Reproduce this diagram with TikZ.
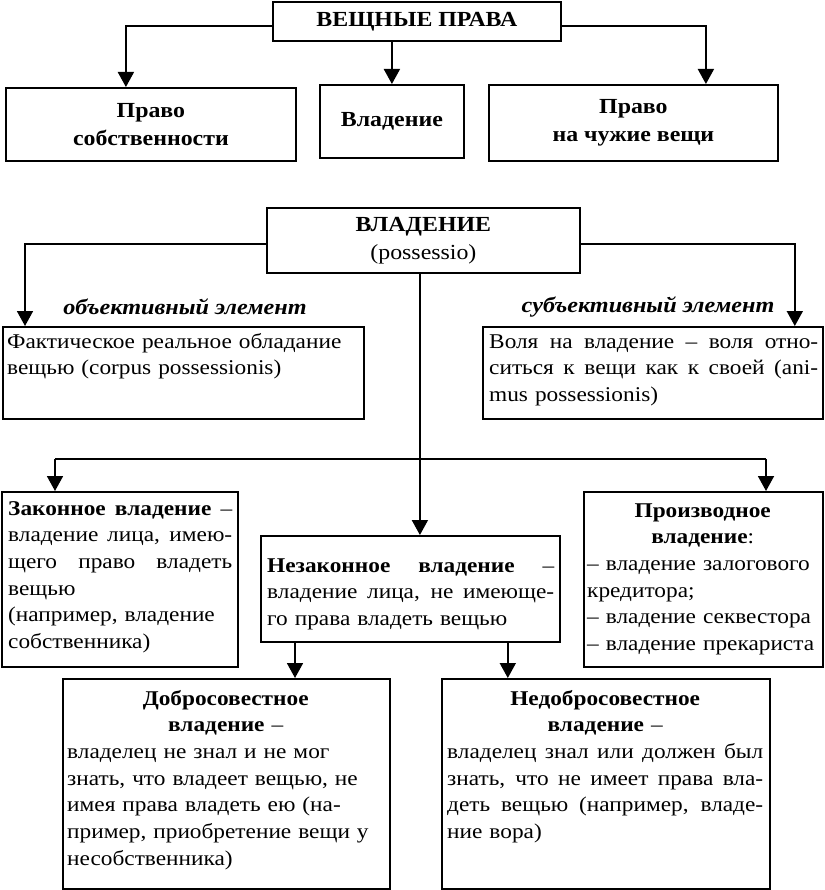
\documentclass[tikz,border=0pt]{standalone}
\usepackage{fontspec}
\setmainfont{Liberation Serif}[FakeStretch=1.11]
\usetikzlibrary{arrows.meta}
\tikzset{
  box/.style={draw=black, line width=1.8pt, inner sep=0pt, anchor=north west},
  hbox/.style={box, align=center, font=\fontsize{21.5}{28}\selectfont\bfseries},
  txt/.style={inner sep=0pt, anchor=base west, align=left, font=\fontsize{21}{26.7}\selectfont},
  lbl/.style={inner sep=0pt, font=\fontsize{21.8}{24}\selectfont\bfseries\itshape},
  conn/.style={line width=1.8pt, -{Triangle[width=16pt,length=15pt]}},
  plainline/.style={line width=1.8pt},
}
\newcommand{\jl}[1]{\makebox[\linewidth][s]{\spaceskip=.3em plus 1fil\relax #1}}
\newcommand{\cl}[1]{\makebox[\linewidth][c]{#1}}
\begin{document}
\begin{tikzpicture}[x=1pt,y=-1pt]
\fill[white] (0,0) rectangle (824,890);
\useasboundingbox (0,0) rectangle (824,890);

% top level
\node[hbox, minimum width=288pt, minimum height=39pt] (top) at (272,1) {ВЕЩНЫЕ ПРАВА};
\node[hbox, minimum width=290pt, minimum height=73pt] (sob) at (5,87) {Право\\собственности};
\node[hbox, minimum width=144pt, minimum height=73pt] (vlad) at (319,84) {Владение};
\node[hbox, minimum width=289pt, minimum height=76pt] (chuzh) at (488,84) {Право\\на чужие вещи};

\draw[conn] ([yshift=-4.5pt]top.west) -| ([xshift=-25pt]sob.north);
\draw[conn] ([yshift=-4.5pt]top.east) -| ([xshift=72.5pt]chuzh.north);
\draw[conn] (top.south -| vlad.north) -- (vlad.north);

% possessio
\node[hbox, minimum width=313pt, minimum height=65pt] (poss) at (266,207)
  {ВЛАДЕНИЕ\\\mdseries(possessio)};

\node[box, minimum width=361pt, minimum height=92pt] (fakt) at (2,326) {};
\node[txt, text width=351pt] (faktT) at (7,348)
  {Фактическое реальное обладание\\вещью (corpus possessionis)};

\node[box, minimum width=340pt, minimum height=92pt] (volya) at (482,326) {};
\node[txt, text width=329pt] (volyaT) at (489,348)
  {\jl{Воля на владение – воля отно-}\\\jl{ситься к вещи как к своей (ani-}\\mus possessionis)};

\node[lbl] (obj) at (185,307) {объективный элемент};
\node[lbl] (subj) at (648,307) {субъективный элемент};

\draw[conn] ([yshift=-3.5pt]poss.west) -| ([xshift=23pt]fakt.north west);
\draw[conn] ([yshift=-3.5pt]poss.east) -| ([xshift=-29pt]volya.north east);

% second level
\node[box, minimum width=236pt, minimum height=175pt] (zak) at (1,491) {};
\node[txt, text width=224pt] (zakT) at (8,515)
  {\jl{\textbf{Законное владение} –}\\\jl{владение лица, имею-}\\\jl{щего право владеть}\\вещью\\(например, владение\\собственника)};

\node[box, minimum width=299pt, minimum height=106pt] (nez) at (260,535) {};
\node[txt, text width=287pt] (nezT) at (267,572)
  {\jl{\textbf{Незаконное владение} –}\\\jl{владение лица, не имеюще-}\\го права владеть вещью};

\node[box, minimum width=239pt, minimum height=175pt] (pro) at (583,491) {};
\node[txt, text width=231pt] (proT) at (587,517)
  {\cl{\textbf{Производное}}\\\cl{\textbf{владение}:}\\– владение залогового\\кредитора;\\– владение секвестора\\– владение прекариста};

\coordinate (hl) at (55,459);
\coordinate (hr) at (766,459);
\draw[plainline] (hl) -- (hr);
\draw[conn] (hl) -- (hl |- zak.north);
\draw[conn] (hr) -- (hr |- pro.north);
\draw[conn] ([xshift=-3.5pt]poss.south) -- ([xshift=-3.5pt]poss.south |- nez.north);

% third level
\node[box, minimum width=327pt, minimum height=210pt] (dob) at (62,678) {};
\node[txt, text width=317pt] (dobT) at (67,705)
  {\cl{\textbf{Добросовестное}}\\\cl{\textbf{владение} –}\\владелец не знал и не мог\\знать, что владеет вещью, не\\имея права владеть ею (на-\\пример, приобретение вещи у\\несобственника)};

\node[box, minimum width=328pt, minimum height=210pt] (ned) at (441,678) {};
\node[txt, text width=316pt] (nedT) at (447,705)
  {\cl{\textbf{Недобросовестное}}\\\cl{\textbf{владение} –}\\\jl{владелец знал или должен был}\\\jl{знать, что не имеет права вла-}\\\jl{деть вещью (например, владе-}\\ние вора)};

\draw[conn] ([xshift=35pt]nez.south west) -- ([xshift=35pt]nez.south west |- dob.north);
\draw[conn] ([xshift=-53pt]nez.south east) -- ([xshift=-53pt]nez.south east |- ned.north);
\end{tikzpicture}
\end{document}
